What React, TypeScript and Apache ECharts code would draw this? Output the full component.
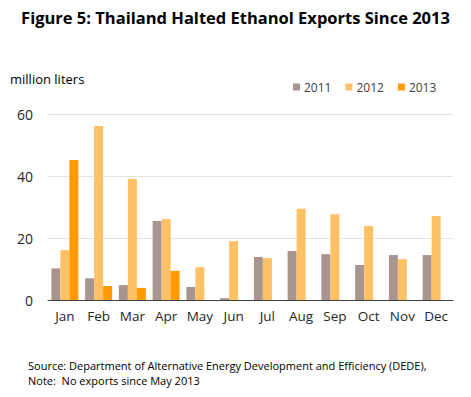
import React, { useEffect, useRef } from "react";
import * as echarts from "echarts";

const months = ["Jan", "Feb", "Mar", "Apr", "May", "Jun", "Jul", "Aug", "Sep", "Oct", "Nov", "Dec"];
const y2011 = [10.2, 7.0, 4.8, 25.5, 4.2, 0.6, 13.9, 15.8, 14.8, 11.3, 14.5, 14.5];
const y2012 = [16.1, 56.1, 39.0, 26.1, 10.6, 19.0, 13.5, 29.4, 27.7, 23.9, 13.2, 27.1];
const y2013 = [45.2, 4.5, 3.9, 9.4, null, null, null, null, null, null, null, null];
const seriesNames = ["2011", "2012", "2013"];
const colors = ["#A8958F", "#FFC166", "#FF9A00"];

const FONT = "'Open Sans', 'DejaVu Sans', sans-serif";

export default function App() {
  const ref = useRef<HTMLDivElement>(null);
  useEffect(() => {
    if (!ref.current) return;
    const chart = echarts.init(ref.current, undefined, { renderer: "svg" });
    const data = [y2011, y2012, y2013];
    chart.setOption({
      animation: false,
      backgroundColor: "#ffffff",
      textStyle: { fontFamily: FONT },
      title: {
        text: "Figure 5: Thailand Halted Ethanol Exports Since 2013",
        left: "center",
        top: 4,
        textStyle: { fontFamily: FONT, fontSize: 16.5, fontWeight: "bold", color: "#000" },
      },
      legend: {
        data: seriesNames,
        left: 288,
        top: 76,
        itemWidth: 7,
        itemHeight: 7,
        itemGap: 14,
        icon: "rect",
        textStyle: { fontFamily: FONT, fontSize: 12, color: "#404040", padding: [0, 0, 0, -1] },
      },
      grid: { left: 48, right: 18, top: 114, bottom: 97 },
      xAxis: {
        type: "category",
        data: months,
        axisLine: { lineStyle: { color: "#404040", width: 1 } },
        axisTick: { show: false },
        axisLabel: { fontFamily: FONT, fontSize: 13.5, color: "#262626", margin: 9, interval: 0 },
      },
      yAxis: {
        type: "value",
        min: 0,
        max: 60,
        interval: 20,
        axisLine: { show: false },
        axisTick: { show: false },
        splitLine: { lineStyle: { color: "#e3e3e3", width: 1 } },
        axisLabel: { fontFamily: FONT, fontSize: 14, color: "#262626", margin: 15 },
      },
      series: seriesNames.map((name, i) => ({
        name,
        type: "bar",
        data: data[i],
        itemStyle: { color: colors[i] },
        barWidth: 9,
        barGap: "0%",
      })),
      graphic: [
        {
          type: "text",
          left: 10,
          top: 72,
          style: { text: "million liters", font: `13px ${FONT}`, fill: "#000" },
        },
        {
          type: "text",
          left: 28,
          top: 358,
          style: {
            text: "Source: Department of Alternative Energy Development and Efficiency (DEDE),\nNote:  No exports since May 2013",
            font: `11px ${FONT}`,
            lineHeight: 15,
            fill: "#000",
          },
        },
      ],
    });
    return () => chart.dispose();
  }, []);
  return <div ref={ref} style={{ width: 471, height: 397, position: "absolute", left: 0, top: 0 }} />;
}
